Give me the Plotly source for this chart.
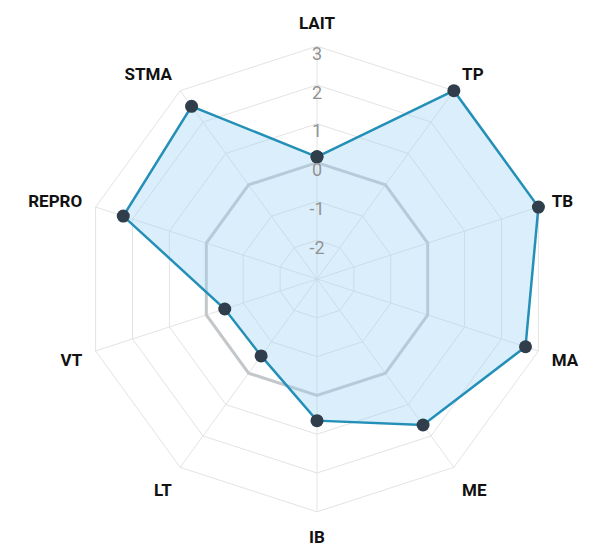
import plotly.graph_objects as go

categories = ["LAIT", "TP", "TB", "MA", "ME", "IB", "LT", "VT", "REPRO", "STMA"]
values = [0.15, 3.0, 3.0, 2.65, 1.65, 0.65, -0.55, -0.5, 2.25, 2.5]
tick_values = [-2, -1, 0, 1, 2, 3]
tick_labels = ["-2", "-1", "0", "1", "2", "3"]
zero_ring = [0] * len(categories)
r_min, r_max = -3, 3

LABEL_FONT = "Roboto, 'DejaVu Sans', sans-serif"
GRID = "#e3e3e3"

fig = go.Figure()

# spokes from centre to the outer (3) ring
spoke_r, spoke_theta = [], []
for c in categories:
    spoke_r += [r_min, r_max, None]
    spoke_theta += [c, c, None]
fig.add_trace(go.Scatterpolar(
    r=spoke_r, theta=spoke_theta, mode="lines",
    line=dict(color=GRID, width=1), connectgaps=False,
    hoverinfo="skip", cliponaxis=True, showlegend=False,
))

# emphasised zero ring
fig.add_trace(go.Scatterpolar(
    r=zero_ring + [zero_ring[0]],
    theta=categories + [categories[0]],
    mode="lines",
    line=dict(color="#c3c7ca", width=3),
    hoverinfo="skip", cliponaxis=True, showlegend=False,
))

# data series
fig.add_trace(go.Scatterpolar(
    r=values + [values[0]],
    theta=categories + [categories[0]],
    mode="lines+markers",
    fill="toself",
    fillcolor="rgba(160,210,245,0.38)",
    line=dict(color="#2490b8", width=2.5),
    marker=dict(color="#2f3e4a", size=13),
    cliponaxis=True, showlegend=False,
))

# radial tick labels along the LAIT spoke
fig.add_trace(go.Scatterpolar(
    r=tick_values,
    theta=[categories[0]] * len(tick_values),
    mode="text",
    text=tick_labels,
    textposition="bottom center",
    textfont=dict(family=LABEL_FONT, size=18, color="#939393"),
    hoverinfo="skip", cliponaxis=True, showlegend=False,
))

fig.update_layout(
    width=601,
    height=547,
    margin=dict(l=0, r=0, t=0, b=0),
    paper_bgcolor="white",
    plot_bgcolor="white",
    showlegend=False,
    polar=dict(
        domain=dict(x=[0.1042, 0.9241], y=[0.0541, 0.9550]),
        bgcolor="white",
        gridshape="linear",
        radialaxis=dict(
            range=[r_min, 3.35],
            tickvals=tick_values,
            showticklabels=False,
            ticks="",
            showline=False,
            gridcolor=GRID,
            gridwidth=1,
            angle=90,
        ),
        angularaxis=dict(
            direction="clockwise",
            rotation=90,
            categoryorder="array",
            categoryarray=categories,
            showline=False,
            showgrid=False,
            ticks="",
            tickfont=dict(family=LABEL_FONT, size=17, color="#111111", weight="bold"),
        ),
    ),
)

fig.write_html("out.html")
